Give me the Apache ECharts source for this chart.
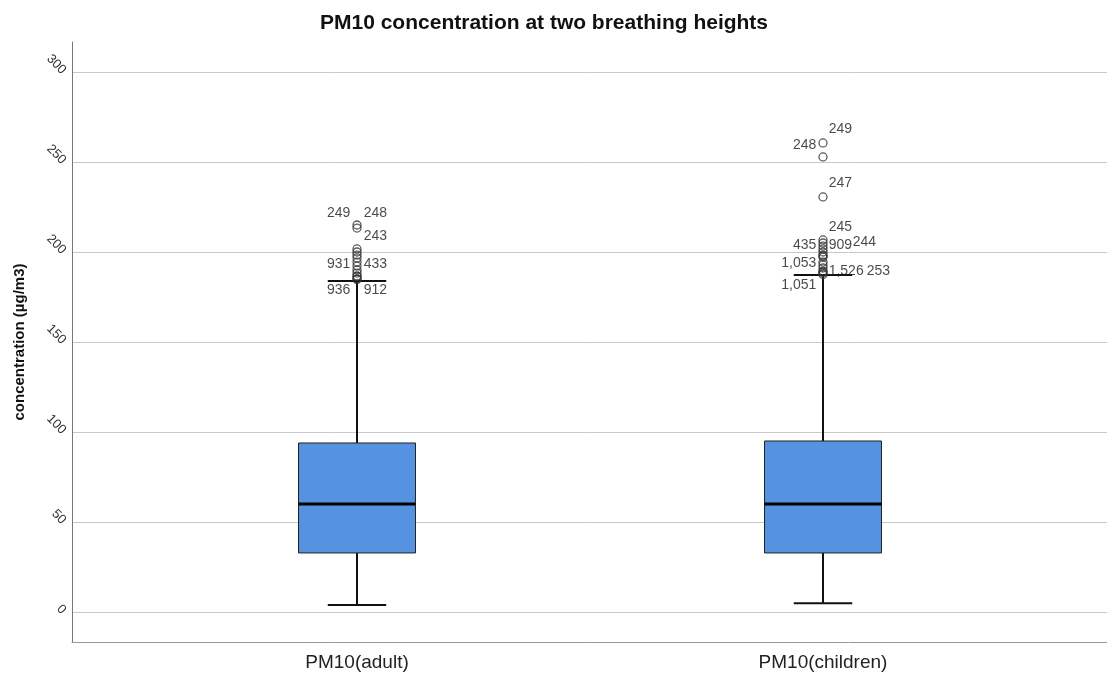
<!DOCTYPE html>
<html><head><meta charset="utf-8">
<script src="https://cdn.jsdelivr.net/npm/echarts@6/dist/echarts.min.js"></script>
<style>html,body{margin:0;padding:0;background:#fff}#c{width:1107px;height:680px}</style>
</head><body><div id="c"></div>
<script>
// ---- data ----
const categories = ['PM10(adult)', 'PM10(children)'];
// [lower whisker, Q1, median, Q3, upper whisker]
const adultBox = [3.9, 32.8, 60.0, 93.9, 183.9];
const childrenBox = [4.8, 32.8, 60.0, 95.0, 187.2];
// outliers: [value, case label]
const adultOutliers = [
  [215.0, '249'], [213.3, '248'], [201.7, '243'], [200.0, ''], [198.3, ''], [196.7, ''],
  [194.4, ''], [192.2, ''], [190.0, ''], [188.3, ''], [186.7, '931'], [186.4, '433'],
  [185.0, '936'], [184.8, '912']
];
const childrenOutliers = [
  [260.6, '249'], [252.8, '248'], [230.6, '247'], [206.7, '245'], [205.0, ''],
  [203.3, ''], [201.7, ''], [200.0, ''], [198.3, '244'], [197.8, '435'], [197.2, '909'],
  [194.4, ''], [192.8, ''], [191.1, ''], [189.4, '1,053'], [188.9, '1,526'], [188.3, '253'],
  [187.5, '1,051']
];
const yTicks = [0, 50, 100, 150, 200, 250, 300];

// ---- label layout (style only): [side, dx, dy] ----
const adultLabelLayout = {
  '249': ['left', 0, -12], '248': ['right', 0, -15], '243': ['right', 0, -13],
  '931': ['left', 0, -12], '433': ['right', 0, -12], '936': ['left', 0, 11], '912': ['right', 0, 11]
};
const childrenLabelLayout = {
  '249': ['right', -1, -14], '248': ['left', 0, -12], '247': ['right', -1, -14], '245': ['right', -1, -13],
  '435': ['left', 0, -11], '909': ['right', -1, -12], '244': ['right', 23, -13],
  '1,053': ['left', 0, -8], '1,526': ['right', -1, -1], '253': ['right', 37, -2], '1,051': ['left', 0, 11]
};

const FONT = 'Arial, "Liberation Sans", sans-serif';
const boxData = [[0].concat(adultBox), [1].concat(childrenBox)];

function outlierItems(list, idx, layout) {
  return list.map(function (o) {
    const item = { value: [idx, o[0]] };
    const l = layout[o[1]];
    if (o[1] && l) {
      item.label = {
        show: true, formatter: o[1], position: l[0], distance: 2,
        offset: [l[1], l[2]], color: '#1a1a1a', fontSize: 14, fontFamily: FONT
      };
    }
    return item;
  });
}

const chart = echarts.init(document.getElementById('c'), null, { renderer: 'canvas' });
const yMin = -16.667, yMax = 316.667;
chart.setOption({
  animation: false,
  backgroundColor: '#fff',
  title: {
    text: 'PM10 concentration at two breathing heights', left: 315, top: 8,
    textStyle: { fontFamily: FONT, fontSize: 21, fontWeight: 'bold', color: '#111' }
  },
  grid: [
    { left: 72, right: 0, top: 42, bottom: 38 },
    { left: 124, right: 51, top: 42, bottom: 38 }
  ],
  xAxis: [
    { gridIndex: 0, type: 'value', min: 0, max: 1, axisLine: { show: true, onZero: false, lineStyle: { color: '#999', width: 1 } },
      axisTick: { show: false }, axisLabel: { show: false }, splitLine: { show: false } },
    { gridIndex: 1, type: 'category', data: categories, boundaryGap: true,
      axisLine: { show: false }, axisTick: { show: false }, splitLine: { show: false },
      axisLabel: { show: true, margin: 11, fontSize: 19, color: '#222', fontFamily: FONT } }
  ],
  yAxis: [
    { gridIndex: 0, type: 'value', min: yMin, max: yMax,
      name: 'concentration (µg/m3)', nameLocation: 'middle', nameGap: 45, nameRotate: 90,
      nameTextStyle: { fontFamily: FONT, fontSize: 15, fontWeight: 'bold', color: '#111' },
      axisLine: { show: true, lineStyle: { color: '#777', width: 1 } },
      axisTick: { show: false, customValues: yTicks },
      axisLabel: { show: true, customValues: yTicks, rotate: -45, margin: 8, fontSize: 13, color: '#333', fontFamily: FONT },
      splitLine: { show: true, lineStyle: { color: '#c8c8c8', width: 1 } } },
    { gridIndex: 1, type: 'value', min: yMin, max: yMax, show: false, splitLine: { show: false } }
  ],
  series: [
    {
      type: 'custom', xAxisIndex: 1, yAxisIndex: 1, data: boxData, z: 3,
      renderItem: function (params, api) {
        const idx = api.value(0);
        const lo = api.coord([idx, api.value(1)]);
        const q1 = api.coord([idx, api.value(2)]);
        const md = api.coord([idx, api.value(3)]);
        const q3 = api.coord([idx, api.value(4)]);
        const hi = api.coord([idx, api.value(5)]);
        const band = api.size([1, 0])[0];
        const bw = band * 0.251, cw = bw / 2, cx = md[0];
        const ls = { stroke: '#111', lineWidth: 2 };
        return {
          type: 'group', children: [
            { type: 'line', shape: { x1: cx, y1: hi[1], x2: cx, y2: q3[1] }, style: ls },
            { type: 'line', shape: { x1: cx, y1: q1[1], x2: cx, y2: lo[1] }, style: ls },
            { type: 'line', shape: { x1: cx - cw / 2, y1: hi[1], x2: cx + cw / 2, y2: hi[1] }, style: ls },
            { type: 'line', shape: { x1: cx - cw / 2, y1: lo[1], x2: cx + cw / 2, y2: lo[1] }, style: ls },
            { type: 'rect', shape: { x: cx - bw / 2, y: q3[1], width: bw, height: q1[1] - q3[1] },
              style: { fill: '#5593e0', stroke: '#222', lineWidth: 1 } },
            { type: 'line', shape: { x1: cx - bw / 2, y1: md[1], x2: cx + bw / 2, y2: md[1] },
              style: { stroke: '#000', lineWidth: 3 } }
          ]
        };
      }
    },
    {
      type: 'scatter', xAxisIndex: 1, yAxisIndex: 1, z: 4, symbol: 'circle', symbolSize: 8,
      itemStyle: { color: 'rgba(255,255,255,0)', borderColor: '#333', borderWidth: 1.3 },
      data: outlierItems(adultOutliers, 0, adultLabelLayout)
    },
    {
      type: 'scatter', xAxisIndex: 1, yAxisIndex: 1, z: 4, symbol: 'circle', symbolSize: 8,
      itemStyle: { color: 'rgba(255,255,255,0)', borderColor: '#333', borderWidth: 1.3 },
      data: outlierItems(childrenOutliers, 1, childrenLabelLayout)
    }
  ]
});
</script></body></html>
